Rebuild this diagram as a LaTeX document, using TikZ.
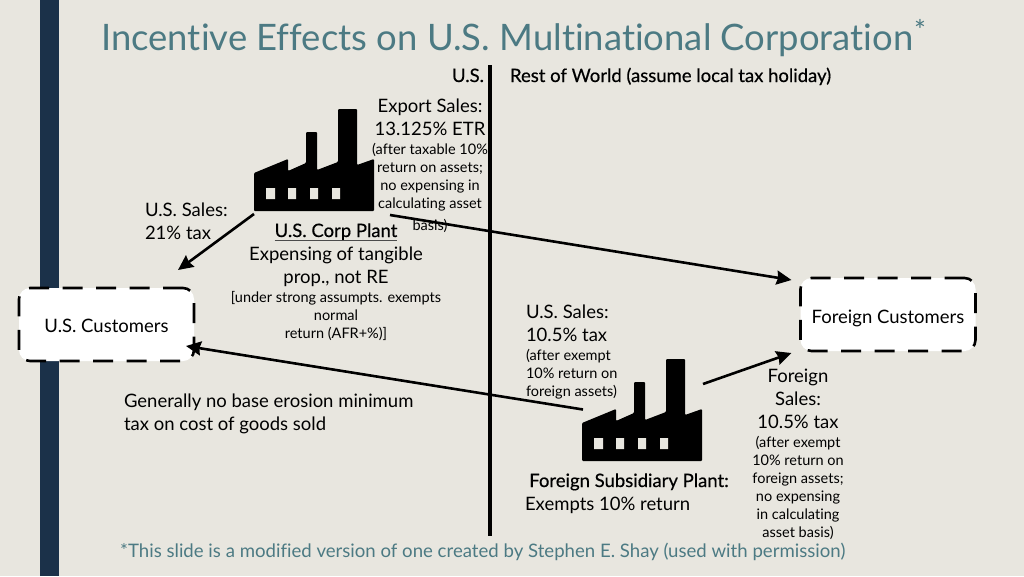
\documentclass[tikz,border=0pt]{standalone}
\usepackage{fontspec}
\setmainfont{Lato}[Ligatures=CommonOff]
\usetikzlibrary{arrows.meta}
\definecolor{bgc}{HTML}{E8E6DF}
\definecolor{barc}{HTML}{1B3149}
\definecolor{titlec}{HTML}{4C7A83}
\newcommand{\bigsz}{\fontsize{18.5}{23}\selectfont}
\newcommand{\smsz}{\fontsize{14.5}{18}\selectfont}
\newcommand{\hv}{\addfontfeature{FakeBold=0.4}}
\tikzset{
  x=1pt,y=-1pt,
  txt/.style={inner sep=0pt,outer sep=0pt,font=\bigsz,text=black},
  sm/.style={inner sep=0pt,outer sep=0pt,font=\smsz,text=black},
  lb/.style={anchor=base west},
  cb/.style={anchor=base},
  rb/.style={anchor=base east},
  cust/.style={draw=black,fill=white,line width=2.6pt,rounded corners=11pt,dash pattern=on 20pt off 13.5pt,minimum width=175pt,minimum height=73pt,inner sep=0pt,outer sep=0pt,font=\bigsz,text=black,text depth=0pt},
  conn/.style={draw=black,line width=2.6pt,-{Stealth[length=15pt,width=14pt,inset=1.5pt]}},
  ghost/.style={inner sep=0pt,outer sep=0pt,minimum width=120pt,minimum height=102pt,anchor=north west},
  factory/.pic={
    \fill[black,rounded corners=1pt] (0,64) -- (34,50) -- (34,62) -- (52,54) -- (52,23) -- (63,23) -- (63,61) -- (84,53) -- (84,0) -- (103,0) -- (103,56) -- (120,50) -- (120,102) -- (0,102) -- cycle;
    \fill[bgc] (12,79) rectangle (21,90) (34,79) rectangle (42,90) (56,79) rectangle (64,90) (78,79) rectangle (86,90);
  }
}
\begin{document}
\begin{tikzpicture}
\useasboundingbox (0,0) rectangle (1024,576);
\fill[bgc] (0,0) rectangle (1024,576);
\fill[barc] (40,0) rectangle (59,576);
% title
\node[lb,inner sep=0pt,text=titlec,font=\fontsize{36.45}{40}\selectfont] (title) at (101,50) {Incentive Effects on U.S. Multinational Corporation};
\node[cb,inner sep=0pt,text=titlec,font=\fontsize{28}{30}\selectfont] (star) at (920,40) {*};
% divider
\draw[line width=4pt,black] (490,65) coordinate (divtop) -- (490,536) coordinate (divbot);
\node[txt,rb] (lus) at (484,82) {\hv U.S.};
\node[txt,lb] (lrow) at (510,82) {\hv Rest of World (assume local tax holiday)};
% factories
\pic at (254,109) {factory};
\node[ghost] (usplant) at (254,109) {};
\pic at (582,359) {factory};
\node[ghost] (fplant) at (582,359) {};
% customers
\node[cust,text height=15.4pt] (uscust) at (106.5,324.5) {U.S. Customers};
\node[cust,text height=17pt] (fcust) at (888,314.5) {Foreign Customers};
% export
\node[txt,cb] (e1) at (430,112) {Export Sales:};
\node[txt,cb] (e2) at (430,135) {13.125\% ETR};
\node[sm,cb] (e3) at (430,154) {(after taxable 10\%};
\node[sm,cb] (e4) at (430,172) {return on assets;};
\node[sm,cb] (e5) at (430,190) {no expensing in};
\node[sm,cb] (e6) at (430,208) {calculating asset};
\node[sm,cb] (e7) at (430,230) {basis)};
% us sales
\node[txt,lb] (s1) at (145,216) {U.S. Sales:};
\node[txt,lb] (s2) at (145,239) {21\% tax};
% plant
\node[txt,cb] (p1) at (336,237) {\hv U.S. Corp Plant};
\draw[black!70,line width=1.4pt] ([yshift=-3.5pt]p1.base west) -- ([yshift=-3.5pt]p1.base east);
\node[txt,cb] (p2) at (336,260) {Expensing of tangible};
\node[txt,cb] (p3) at (336,283) {prop., not RE};
\node[sm,cb] (p4) at (336,302) {[under strong assumpts. exempts};
\node[sm,cb] (p5) at (336,320) {normal};
\node[sm,cb] (p6) at (336,338) {return (AFR+\%)]};
% generally
\node[txt,lb] (g1) at (124,407) {Generally no base erosion minimum};
\node[txt,lb] (g2) at (124,430) {tax on cost of goods sold};
% us sales foreign
\node[txt,lb] (f1) at (526,318) {U.S. Sales:};
\node[txt,lb] (f2) at (526,341) {10.5\% tax};
\node[sm,lb] (f3) at (526,360) {(after exempt};
\node[sm,lb] (f4) at (526,378) {10\% return on};
\node[sm,lb] (f5) at (526,396) {foreign assets)};
% foreign sales
\node[txt,cb] (h1) at (798,382) {Foreign};
\node[txt,cb] (h2) at (798,405) {Sales:};
\node[txt,cb] (h3) at (798,428) {10.5\% tax};
\node[sm,cb] (h4) at (798,447) {(after exempt};
\node[sm,cb] (h5) at (798,465) {10\% return on};
\node[sm,cb] (h6) at (798,483) {foreign assets;};
\node[sm,cb] (h7) at (798,501) {no expensing};
\node[sm,cb] (h8) at (798,519) {in calculating};
\node[sm,cb] (h9) at (798,537) {asset basis)};
% sub
\node[txt,cb] (b1) at (629,487) {\hv Foreign Subsidiary Plant:};
\node[txt,lb] (b2) at (525,510) {Exempts 10\% return};
% footer
\node[lb,inner sep=0pt,text=titlec,font=\fontsize{18.6}{23}\selectfont] (foot) at (120,557) {*This slide is a modified version of one created by Stephen E. Shay (used with permission)};
% connectors
\coordinate (a1) at ([shift={(0,3)}]usplant.south west);
\coordinate (a2) at ([shift={(71.5,-18)}]uscust.north);
\coordinate (a3) at (390,215);
\coordinate (a4) at ([shift={(-9,2)}]fcust.north west);
\coordinate (a5) at ([shift={(1,50.5)}]fplant.north west);
\coordinate (a6) at ([shift={(-8,-15)}]uscust.south east);
\coordinate (a7) at ([shift={(121,25)}]fplant.north west);
\coordinate (a8) at ([shift={(-9,2)}]fcust.south west);
\draw[conn] (a1) -- (a2);
\draw[conn] (a3) -- (a4);
\draw[conn] (a5) -- (a6);
\draw[conn] (a7) -- (a8);
\end{tikzpicture}
\end{document}
